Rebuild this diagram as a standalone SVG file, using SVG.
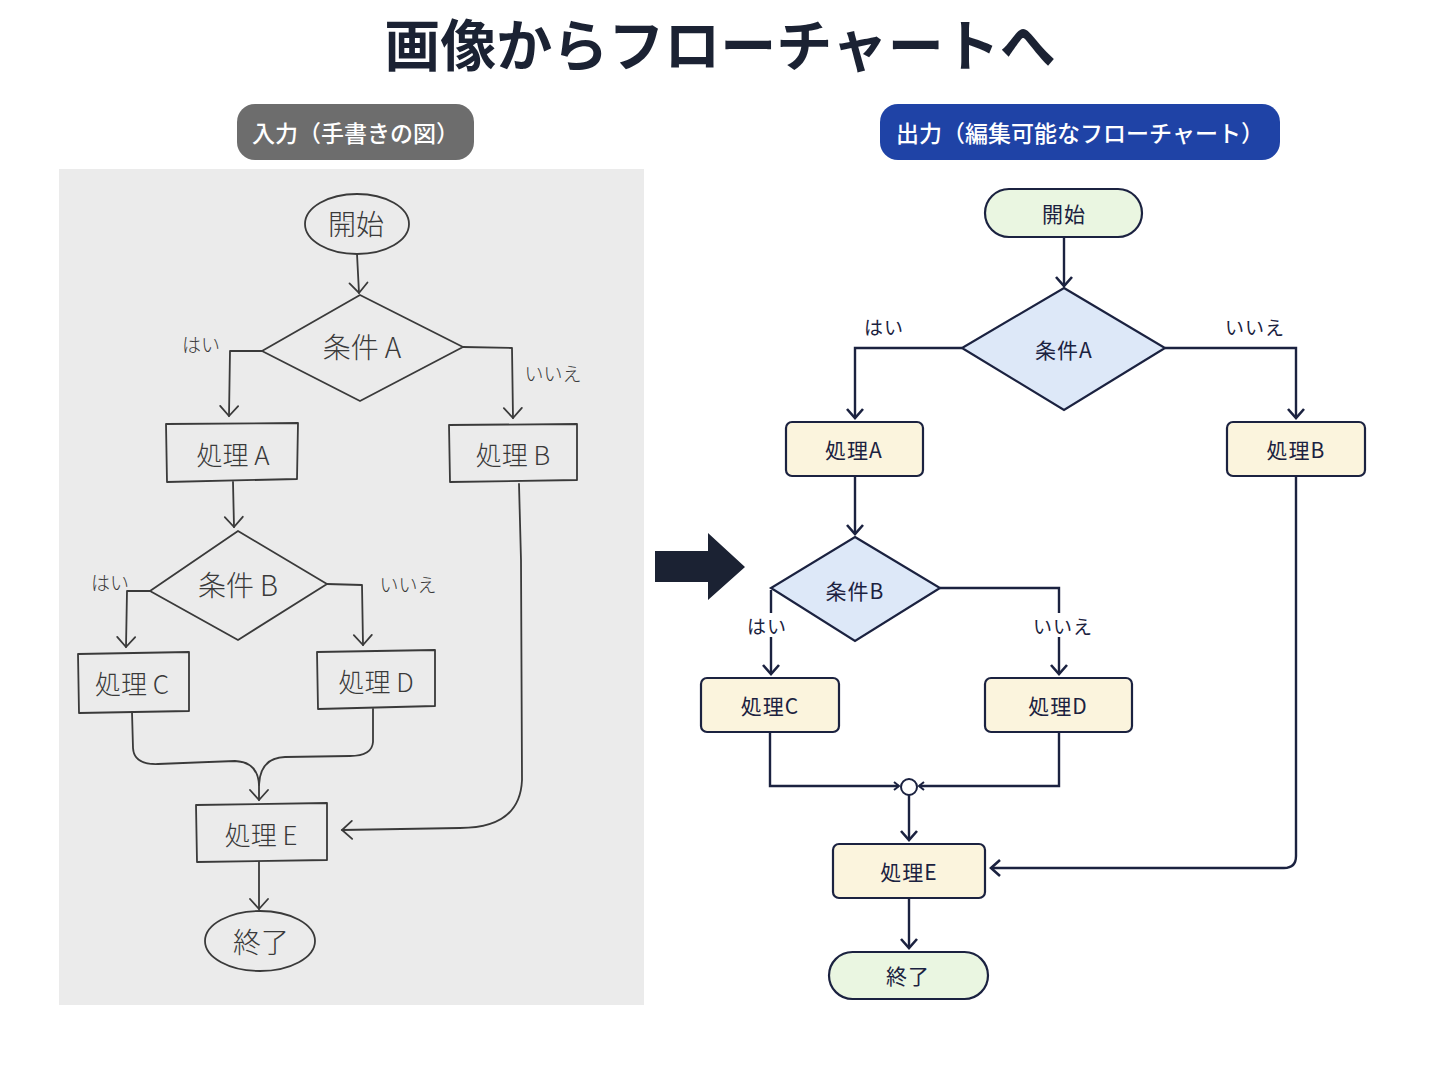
<svg xmlns="http://www.w3.org/2000/svg" width="1442" height="1091" viewBox="0 0 1442 1091">
<defs>
<style>
.title{font-family:"Noto Sans CJK JP","Noto Sans",sans-serif;font-weight:700;font-size:56px;fill:#1b2233;text-anchor:middle}
.pill{font-family:"Noto Sans CJK JP","Noto Sans",sans-serif;font-weight:500;font-size:23px;fill:#ffffff;text-anchor:middle;dominant-baseline:central}
.hd{fill:none;stroke:#3a3a3a;stroke-width:1.8;stroke-linecap:round;stroke-linejoin:round}
.ht{font-family:"Noto Sans CJK JP",sans-serif;font-weight:300;fill:#3a3a3a;text-anchor:middle;dominant-baseline:central}
.node{stroke:#1b2240;stroke-width:2.2}
.term{fill:#eaf6e1}
.proc{fill:#fbf4dd}
.dec{fill:#dde8f8}
.nt{font-family:"Noto Sans CJK JP","Noto Sans",sans-serif;font-size:21px;letter-spacing:1px;fill:#1b2240;text-anchor:middle;dominant-baseline:central}
.lbl{font-family:"Noto Sans CJK JP","Noto Sans",sans-serif;font-size:19px;letter-spacing:1px;fill:#1b2240;text-anchor:middle;dominant-baseline:central}
.edge{fill:none;stroke:#1b2240;stroke-width:2.4}
</style>
<marker id="arr" markerUnits="userSpaceOnUse" markerWidth="22" markerHeight="22" viewBox="0 0 22 22" refX="11" refY="11" orient="auto">
<path d="M2,3 L11,11 L2,19" fill="none" stroke="#1b2240" stroke-width="2.6"/>
</marker>
<marker id="arrs" markerUnits="userSpaceOnUse" markerWidth="14" markerHeight="14" viewBox="0 0 14 14" refX="7" refY="7" orient="auto">
<path d="M2,3 L7,7 L2,11" fill="none" stroke="#1b2240" stroke-width="2"/>
</marker>
<marker id="harr" markerUnits="userSpaceOnUse" markerWidth="24" markerHeight="24" viewBox="0 0 24 24" refX="12" refY="12" orient="auto">
<path d="M2,3 L12,12 L2,21" fill="none" stroke="#3a3a3a" stroke-width="1.8" stroke-linecap="round"/>
</marker>
</defs>
<rect width="1442" height="1091" fill="#ffffff"/>

<text class="title" x="720" y="66">画像からフローチャートへ</text>

<g id="pill-input">
<rect x="237" y="104" width="237" height="56" rx="18" fill="#6d6d6d"/>
<text class="pill" x="355.5" y="132">入力（手書きの図）</text>
</g>
<g id="pill-output">
<rect x="880" y="104" width="400" height="56" rx="18" fill="#1f43a6"/>
<text class="pill" x="1080" y="132">出力（編集可能なフローチャート）</text>
</g>

<g id="paper">
<rect x="59" y="169" width="585" height="836" fill="#ebebeb"/>
<g id="hand-connectors">
<path class="hd" d="M357,254 L359,293" marker-end="url(#harr)"/>
<path class="hd" d="M262,351 L230,351 L229,416" marker-end="url(#harr)"/>
<path class="hd" d="M463,347 L512,348 L513,418" marker-end="url(#harr)"/>
<path class="hd" d="M233,482 L234,527" marker-end="url(#harr)"/>
<path class="hd" d="M150,591 L127,591 L126,647" marker-end="url(#harr)"/>
<path class="hd" d="M327,584 L362,585 L363,645" marker-end="url(#harr)"/>
<path class="hd" d="M132,712 L133,748 Q134,765 158,764 L235,761 Q258,762 259,785"/>
<path class="hd" d="M373,709 L373,742 Q372,756 350,756 L285,757 Q260,758 259,785 L259,800" marker-end="url(#harr)"/>
<path class="hd" d="M519,484 L521,560 L522,780 Q520,828 460,828 L342,830" marker-end="url(#harr)"/>
<path class="hd" d="M259,862 L259,909" marker-end="url(#harr)"/>
</g>
<g id="h-start"><ellipse class="hd" cx="357" cy="224" rx="52" ry="30"/><text class="ht" x="356" y="223" font-size="28">開始</text></g>
<g id="h-condA"><path class="hd" d="M360,295 L463,347 L360,401 L262,351 Z"/><text class="ht" x="362" y="346" font-size="28">条件 A</text></g>
<g id="h-procA"><path class="hd" d="M166,424 L298,423 L297,479 L167,482 Z"/><text class="ht" x="233" y="453" font-size="26">処理 A</text></g>
<g id="h-procB"><path class="hd" d="M449,425 L577,424 L577,480 L450,482 Z"/><text class="ht" x="513" y="453" font-size="26">処理 B</text></g>
<g id="h-condB"><path class="hd" d="M238,531 L327,584 L238,640 L150,591 Z"/><text class="ht" x="238" y="584" font-size="28">条件 B</text></g>
<g id="h-procC"><path class="hd" d="M78,654 L189,652 L189,711 L79,713 Z"/><text class="ht" x="132" y="682" font-size="26">処理 C</text></g>
<g id="h-procD"><path class="hd" d="M317,652 L435,650 L435,706 L318,709 Z"/><text class="ht" x="376" y="680" font-size="26">処理 D</text></g>
<g id="h-procE"><path class="hd" d="M196,805 L327,803 L327,860 L197,862 Z"/><text class="ht" x="261" y="833" font-size="26">処理 E</text></g>
<g id="h-end"><ellipse class="hd" cx="260" cy="941" rx="55" ry="30"/><text class="ht" x="261" y="941" font-size="28">終了</text></g>
<text class="ht" x="201" y="343" font-size="19">はい</text>
<text class="ht" x="553" y="372" font-size="19">いいえ</text>
<text class="ht" x="110" y="581" font-size="19">はい</text>
<text class="ht" x="408" y="583" font-size="19">いいえ</text>
</g>

<g id="big-arrow">
<path d="M655,551 L708,551 L708,533 L745,567 L708,600 L708,582 L655,582 Z" fill="#1b2233"/>
</g>

<g id="connectors">
<path class="edge" d="M1064,237 L1064,286" marker-end="url(#arr)"/>
<path class="edge" d="M962,348 L855,348 L855,418" marker-end="url(#arr)"/>
<path class="edge" d="M1165,348 L1296,348 L1296,418" marker-end="url(#arr)"/>
<path class="edge" d="M855,476 L855,534" marker-end="url(#arr)"/>
<path class="edge" d="M771,590 L771,674" marker-end="url(#arr)"/>
<path class="edge" d="M940,588 L1059,588 L1059,674" marker-end="url(#arr)"/>
<path class="edge" d="M770,732 L770,786 L899,786" marker-end="url(#arrs)"/>
<path class="edge" d="M1059,732 L1059,786 L919,786" marker-end="url(#arrs)"/>
<path class="edge" d="M909,795 L909,840" marker-end="url(#arr)"/>
<path class="edge" d="M1296,476 L1296,856 Q1296,868 1284,868 L991,868" marker-end="url(#arr)"/>
<path class="edge" d="M909,898 L909,948" marker-end="url(#arr)"/>
<rect x="744" y="613" width="48" height="24" fill="#ffffff"/>
<rect x="1032" y="613" width="62" height="24" fill="#ffffff"/>
<text class="lbl" x="884" y="326">はい</text>
<text class="lbl" x="1255" y="326">いいえ</text>
<text class="lbl" x="767" y="625">はい</text>
<text class="lbl" x="1063" y="625">いいえ</text>
</g>

<g id="start"><rect class="node term" x="985" y="189" width="157" height="48" rx="24"/><text class="nt" x="1064" y="213">開始</text></g>
<g id="condA"><path class="node dec" d="M1064,288 L1165,348 L1064,410 L962,348 Z"/><text class="nt" x="1064" y="349">条件A</text></g>
<g id="procA"><rect class="node proc" x="786" y="422" width="137" height="54" rx="6"/><text class="nt" x="854" y="449">処理A</text></g>
<g id="procB"><rect class="node proc" x="1227" y="422" width="138" height="54" rx="6"/><text class="nt" x="1296" y="449">処理B</text></g>
<g id="condB"><path class="node dec" d="M855,537 L940,588 L855,641 L771,588 Z"/><text class="nt" x="855" y="590">条件B</text></g>
<g id="procC"><rect class="node proc" x="701" y="678" width="138" height="54" rx="6"/><text class="nt" x="770" y="705">処理C</text></g>
<g id="procD"><rect class="node proc" x="985" y="678" width="147" height="54" rx="6"/><text class="nt" x="1058" y="705">処理D</text></g>
<g id="merge"><circle cx="909" cy="787" r="8" fill="#ffffff" stroke="#1b2240" stroke-width="2"/></g>
<g id="procE"><rect class="node proc" x="833" y="844" width="152" height="54" rx="6"/><text class="nt" x="909" y="871">処理E</text></g>
<g id="end"><rect class="node term" x="829" y="952" width="159" height="47" rx="23.5"/><text class="nt" x="908" y="975">終了</text></g>
</svg>
